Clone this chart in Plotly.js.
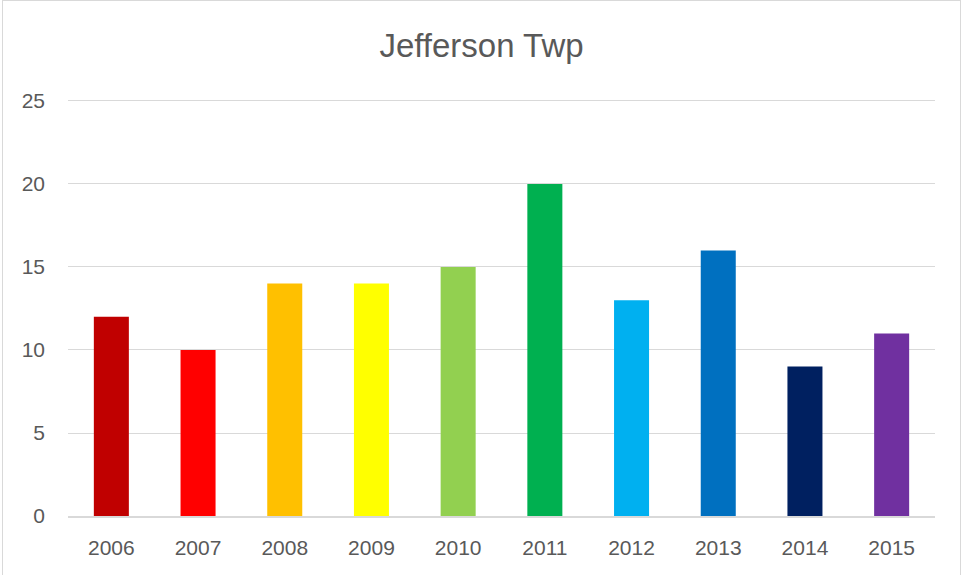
<!DOCTYPE html>
<html>
<head>
<meta charset="utf-8">
<script src="https://cdn.plot.ly/plotly-3.0.1.min.js"></script>
<style>
    body { margin: 0; background: #fff; }
    #chart { width: 963px; height: 575px; }
    #frame {
        position: absolute; left: 2px; top: 0px; width: 957px; height: 590px;
        border: 1px solid #d9d9d9; pointer-events: none;
    }
</style>
</head>
<body>
<div id="chart"></div>
<div id="frame"></div>
<script>
var years = ["2006", "2007", "2008", "2009", "2010", "2011", "2012", "2013", "2014", "2015"];
var counts = [12, 10, 14, 14, 15, 20, 13, 16, 9, 11];
var barColors = ["#C00000", "#FF0000", "#FFC000", "#FFFF00", "#92D050",
                 "#00B050", "#00B0F0", "#0070C0", "#002060", "#7030A0"];
var yTicks = [0, 5, 10, 15, 20, 25];

var trace = {
    type: "bar",
    x: years,
    y: counts,
    marker: { color: barColors },
    hoverinfo: "x+y"
};

var layout = {
    width: 963,
    height: 575,
    margin: { l: 68, r: 28, t: 96, b: 59 },
    paper_bgcolor: "#fff",
    plot_bgcolor: "#fff",
    font: { family: "Liberation Sans, Arial, sans-serif", color: "#595959", size: 21 },
    title: {
        text: "Jefferson Twp",
        font: { size: 33, color: "#595959" },
        x: 0.5,
        xanchor: "center",
        y: 1 - 45 / 575,
        yanchor: "middle"
    },
    bargap: 0.596,
    showlegend: false,
    xaxis: {
        type: "category",
        showline: true,
        linecolor: "#d9d9d9",
        linewidth: 1.5,
        showgrid: false,
        ticks: "",
        ticklabelstandoff: 12,
        tickfont: { size: 21, color: "#595959" }
    },
    yaxis: {
        range: [0, 25.3],
        tickvals: yTicks,
        showgrid: true,
        gridcolor: "#d9d9d9",
        gridwidth: 1,
        zeroline: false,
        showline: false,
        ticks: "",
        ticklabelstandoff: 22,
        tickfont: { size: 21, color: "#595959" }
    }
};

Plotly.newPlot("chart", [trace], layout, { displayModeBar: false, staticPlot: true });
</script>
</body>
</html>
